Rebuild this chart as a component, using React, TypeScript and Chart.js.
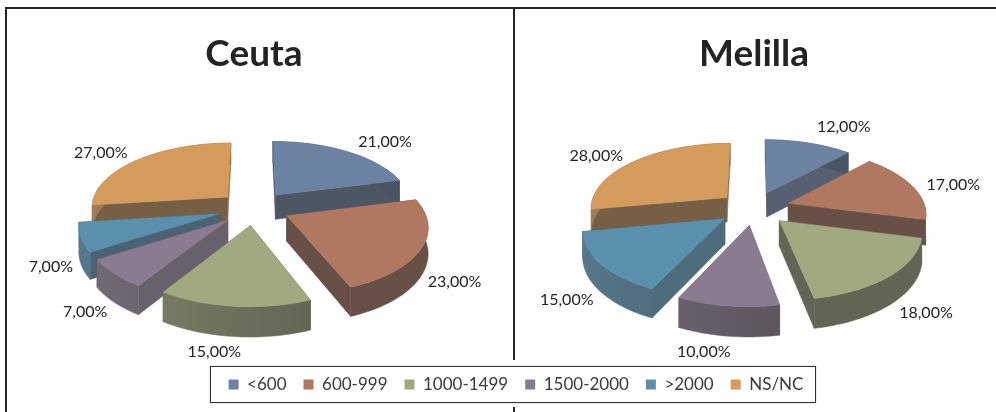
import React, { useEffect, useRef } from "react";
import { Chart, registerables } from "chart.js";

Chart.register(...registerables);

const categories = ["<600", "600-999", "1000-1499", "1500-2000", ">2000", "NS/NC"];
const ceutaValues = [21, 23, 15, 7, 7, 27];
const melillaValues = [12, 17, 18, 10, 15, 28];
const sliceColors = ["#6c82a3", "#b07860", "#a0a97f", "#8a7b90", "#5b8fae", "#d59b5c"];
const ceutaLabelNudge = [[38, -10], [33, 34], [-20, 46], [-29, 38], [-30, 30], [-37, -7]];
const melillaLabelNudge = [[35, -16], [41, -2], [36, 37], [-24, 46], [-34, 36], [-38, -6]];

const RADIUS = 137;
const EXPLODE = 36;
const TILT = 0.47;
const PERSPECTIVE = 0.14;
const DEPTH = 25;
const FONT = "Lato, 'Noto Sans', sans-serif";
const INK = "#232323";

function shade(hex: string, m: number) {
  const n = parseInt(hex.slice(1), 16);
  const ch = [(n >> 16) & 255, (n >> 8) & 255, n & 255].map((c) => Math.round(c * m * 0.7 + 30));
  return `rgb(${ch[0]},${ch[1]},${ch[2]})`;
}

const pie3d = {
  id: "pie3d",
  beforeDatasetsDraw(chart: any, _args: any, opts: any) {
    const ctx = chart.ctx;
    const meta = chart.getDatasetMeta(0);
    const colors = chart.data.datasets[0].backgroundColor as string[];
    const values = chart.data.datasets[0].data as number[];
    const project = (cx: number, cy: number, px: number, py: number, down = 0) => {
      const f = 1 / (1 - (PERSPECTIVE * py) / RADIUS);
      return [cx + px * f, cy + TILT * py * f + down * f];
    };
    const slices = meta.data.map((arc: any, i: number) => {
      const s = arc.startAngle + Math.PI / 2;
      const e = arc.endAngle + Math.PI / 2;
      const mid = (s + e) / 2;
      const ox = Math.sin(mid) * EXPLODE;
      const oy = -Math.cos(mid) * EXPLODE;
      const r = arc.outerRadius;
      const steps = 40;
      const pts: number[][] = [];
      for (let k = 0; k <= steps; k++) {
        const t = s + ((e - s) * k) / steps;
        pts.push([ox + Math.sin(t) * r, oy - Math.cos(t) * r]);
      }
      return { i, s, e, mid, ox, oy, r, pts, x: arc.x, y: arc.y, depthKey: -Math.cos(mid) };
    });
    const poly = (list: number[][], fill: any) => {
      ctx.beginPath();
      list.forEach((p, k) => (k ? ctx.lineTo(p[0], p[1]) : ctx.moveTo(p[0], p[1])));
      ctx.closePath();
      ctx.fillStyle = fill;
      ctx.fill();
      ctx.strokeStyle = fill;
      ctx.lineWidth = 0.5;
      ctx.stroke();
    };
    ctx.save();
    [...slices].sort((a, b) => a.depthKey - b.depthKey).forEach((sl: any) => {
      const c = colors[sl.i];
      const P = (p: number[], down = 0) => project(sl.x, sl.y, p[0], p[1], down);
      const apex = [sl.ox, sl.oy];
      const first = sl.pts[0];
      const last = sl.pts[sl.pts.length - 1];
      const nxS = Math.sin(sl.s - Math.PI / 2);
      const nxE = Math.sin(sl.e + Math.PI / 2);
      const wall = (edge: number[], nx: number) =>
        poly([P(apex), P(edge), P(edge, DEPTH), P(apex, DEPTH)], shade(c, 0.6 + 0.25 * Math.max(0, nx - 0.2)));
      const walls = [
        { edge: first, nx: nxS, key: first[1] },
        { edge: last, nx: nxE, key: last[1] },
      ].sort((a, b) => a.key - b.key);
      walls.forEach((w) => wall(w.edge, w.nx));
      const grad = ctx.createLinearGradient(sl.x - 170, 0, sl.x + 60, 0);
      grad.addColorStop(0, shade(c, 0.88));
      grad.addColorStop(1, shade(c, 0.6));
      const lower = sl.pts.map((p: number[]) => P(p, DEPTH)).reverse();
      poly([...sl.pts.map((p: number[]) => P(p)), ...lower], grad);
      poly([P(apex), ...sl.pts.map((p: number[]) => P(p))], c);
    });
    ctx.fillStyle = INK;
    ctx.font = `16px ${FONT}`;
    ctx.textAlign = "center";
    ctx.textBaseline = "middle";
    slices.forEach((sl: any) => {
      const R = sl.r + EXPLODE;
      const a = project(sl.x, sl.y, Math.sin(sl.mid) * R, -Math.cos(sl.mid) * R);
      const n = opts.nudge[sl.i];
      ctx.fillText(`${values[sl.i].toFixed(2).replace(".", ",")}%`, a[0] + n[0], a[1] + n[1]);
    });
    ctx.restore();
    return false;
  },
};

function makePie(canvas: HTMLCanvasElement, title: string, values: number[], nudge: number[][]) {
  return new Chart(canvas, {
    type: "pie",
    data: {
      labels: categories,
      datasets: [{ data: values, backgroundColor: sliceColors, borderWidth: 0 }],
    },
    options: {
      animation: false,
      responsive: false,
      radius: RADIUS,
      layout: { padding: { bottom: 75 } },
      plugins: {
        legend: { display: false },
        tooltip: { enabled: false },
        title: {
          display: true,
          text: title,
          color: INK,
          font: { family: FONT, size: 37, weight: "bold", lineHeight: 1.135 },
          padding: { top: 33, bottom: 0 },
        },
        pie3d: { nudge },
      },
    } as any,
    plugins: [pie3d],
  } as any);
}

function makeLegend(canvas: HTMLCanvasElement) {
  return new Chart(canvas, {
    type: "pie",
    data: {
      labels: categories,
      datasets: [{ data: ceutaValues, backgroundColor: sliceColors, borderWidth: 0 }],
    },
    options: {
      animation: false,
      responsive: false,
      radius: 0,
      plugins: {
        tooltip: { enabled: false },
        legend: {
          display: true,
          position: "top",
          maxHeight: 56,
          labels: {
            boxWidth: 10,
            boxHeight: 10,
            padding: 17,
            color: "#3a3a3a",
            font: { family: FONT, size: 17 },
          },
        },
      },
    } as any,
  } as any);
}

const abs = (left: number, top: number, width: number, height: number, extra: any = {}) => ({
  position: "absolute" as const,
  left,
  top,
  width,
  height,
  ...extra,
});

const soft = "blur(0.35px)";

export default function App() {
  const a = useRef<HTMLCanvasElement>(null);
  const b = useRef<HTMLCanvasElement>(null);
  const l = useRef<HTMLCanvasElement>(null);
  useEffect(() => {
    const charts = [
      makePie(a.current!, "Ceuta", ceutaValues, ceutaLabelNudge),
      makePie(b.current!, "Melilla", melillaValues, melillaLabelNudge),
      makeLegend(l.current!),
    ];
    return () => charts.forEach((c) => c.destroy());
  }, []);
  return (
    <div style={abs(0, 0, 996, 412, { position: "fixed", overflow: "hidden", background: "#fff" })}>
      <div style={abs(5, 7, 991, 2, { background: INK })} />
      <div style={abs(5, 7, 2, 405, { background: INK })} />
      <div style={abs(513, 7, 2, 405, { background: INK })} />
      <canvas ref={a} width={500} height={416} style={abs(4, 0, 500, 416, { display: "block", filter: soft })} />
      <canvas ref={b} width={480} height={416} style={abs(514, 0, 480, 416, { display: "block", filter: soft })} />
      <div style={abs(203, 360, 620, 47, { background: "#fff" })} />
      <div style={abs(210, 366, 606, 37, { background: "#fff", border: "1.5px solid #333", boxSizing: "border-box", boxShadow: "0 0 1px #888" })} />
      <canvas ref={l} width={640} height={56} style={abs(196, 359, 640, 56, { display: "block", filter: soft })} />
    </div>
  );
}
